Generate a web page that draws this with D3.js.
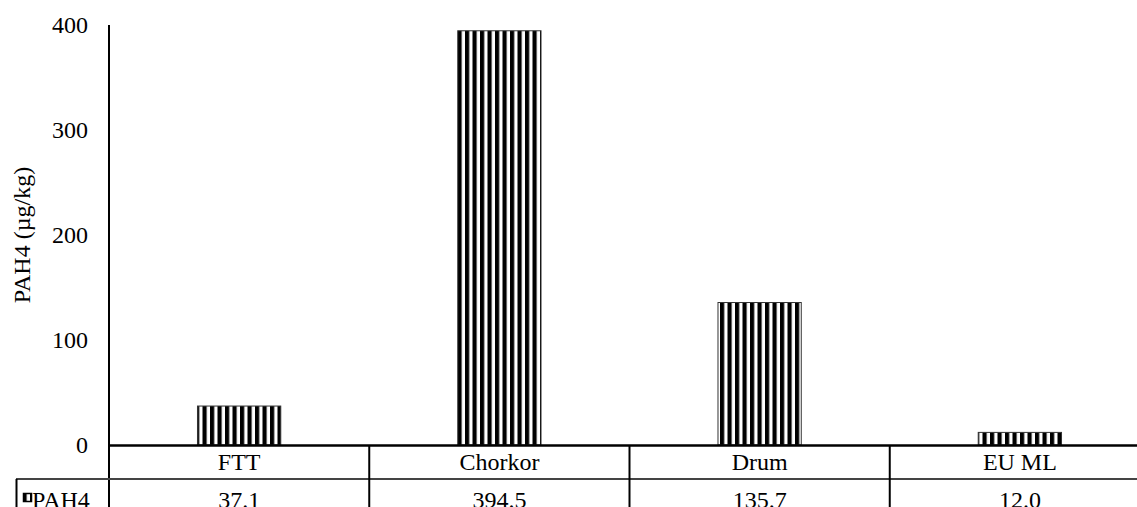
<!DOCTYPE html>
<html><head><meta charset="utf-8">
<script src="https://cdn.jsdelivr.net/npm/d3@7"></script>
<style>
@font-face{font-family:"RefSerif";src:local("Liberation Serif"),local("LiberationSerif"),local("LiberationSerif-Regular"),local("Times New Roman");}
</style>
</head><body style="margin:0;background:#fff">
<svg id="c" width="1137" height="507" style="display:block"></svg>
<script>
const categories = ["FTT","Chorkor","Drum","EU ML"];
const values = [37.1,394.5,135.7,12.0];
const valueLabels = ["37.1","394.5","135.7","12.0"];
const yTicks = [0,100,200,300,400];
const seriesName = "PAH4";
const yTitle = "PAH4 (\u00b5g/kg)";

const FONT = "Times New Roman";
const FS = 24;
const svg = d3.select("#c");
const L = 109, R = 1150, T = 25, B = 445;
const x = d3.scaleBand().domain(categories).range([L, R]).paddingInner(0).paddingOuter(0);
const y = d3.scaleLinear().domain([0,400]).range([B, T]);

const defs = svg.append("defs");
const pat = defs.append("pattern").attr("id","vstripe").attr("patternUnits","userSpaceOnUse")
  .attr("width",7.5).attr("height",10);
pat.append("rect").attr("width",7.5).attr("height",10).attr("fill","#fff");
pat.append("rect").attr("width",4.2).attr("height",10).attr("fill","#000");

function tx(sel){ return sel.attr("font-family",FONT).attr("font-size",FS).attr("fill","#000"); }

// bars
const bw = x.bandwidth()*0.32;
svg.selectAll("rect.bar").data(values).enter().append("rect")
  .attr("class","bar")
  .attr("x",(d,i)=>x(categories[i])+x.bandwidth()/2-bw/2)
  .attr("width",bw)
  .attr("y",d=>y(d))
  .attr("height",d=>B-y(d))
  .attr("fill","url(#vstripe)")
  .attr("stroke","#333").attr("stroke-width",1);

// y axis
const yAxis = d3.axisLeft(y).tickValues(yTicks).tickSize(0).tickPadding(21).tickFormat(d3.format("d"));
const gy = svg.append("g").attr("transform",`translate(${L},0)`).call(yAxis);
gy.select(".domain").remove();
gy.attr("font-family",FONT).attr("font-size",FS);
tx(gy.selectAll("text"));
svg.append("line").attr("x1",L).attr("x2",L).attr("y1",T).attr("y2",507)
  .attr("stroke","#000").attr("stroke-width",2);

// y title
tx(svg.append("text").attr("transform",`translate(30,${(T+B)/2}) rotate(-90)`)
  .attr("text-anchor","middle")).text(yTitle);

// baseline
svg.append("line").attr("x1",L-1).attr("x2",1137).attr("y1",B+0.5).attr("y2",B+0.5)
  .attr("stroke","#000").attr("stroke-width",2.5);

// table
const rowY = 479;
svg.append("line").attr("x1",16).attr("x2",1137).attr("y1",rowY).attr("y2",rowY)
  .attr("stroke","#444").attr("stroke-width",2);
svg.append("line").attr("x1",16.5).attr("x2",16.5).attr("y1",rowY).attr("y2",507)
  .attr("stroke","#000").attr("stroke-width",2);
categories.slice(1).forEach(c=>{
  svg.append("line").attr("x1",x(c)).attr("x2",x(c)).attr("y1",B).attr("y2",507)
    .attr("stroke","#000").attr("stroke-width",2);
});
tx(svg.selectAll("text.cat").data(categories).enter().append("text")
  .attr("class","cat").attr("x",d=>x(d)+x.bandwidth()/2).attr("y",470)
  .attr("text-anchor","middle")).text(d=>d);
tx(svg.selectAll("text.val").data(valueLabels).enter().append("text")
  .attr("class","val").attr("x",(d,i)=>x(categories[i])+x.bandwidth()/2).attr("y",508)
  .attr("text-anchor","middle")).text(d=>d);

// legend key
svg.append("rect").attr("x",23.5).attr("y",493.5).attr("width",8).attr("height",8)
  .attr("fill","url(#vstripe)").attr("stroke","#000").attr("stroke-width",1.5);
tx(svg.append("text").attr("x",32).attr("y",508)).text(seriesName);
</script>
</body></html>
